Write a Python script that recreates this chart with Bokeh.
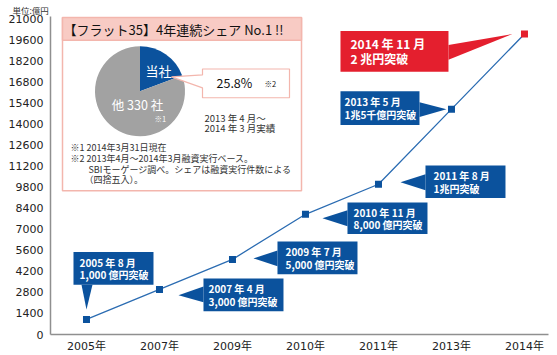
import math
from bokeh.plotting import figure
from bokeh.models import Label, FixedTicker
from bokeh.embed import file_html
from bokeh.resources import INLINE

# ---------------- data ----------------
years = ["2005年", "2007年", "2009年", "2010年", "2011年", "2013年", "2014年"]
amounts = [1000, 3000, 5000, 8000, 10000, 15000, 20000]
y_ticks = list(range(0, 21001, 1400))
callout_dates = ["2005 年 8 月", "2007 年 4 月", "2009 年 7 月", "2010 年 11 月",
                 "2011 年 8 月", "2013 年 5 月", "2014 年 11 月"]
callout_notes = ["1,000 億円突破", "3,000 億円突破", "5,000 億円突破", "8,000 億円突破",
                 "1兆円突破", "1兆5千億円突破", "2 兆円突破"]
share_labels = ["当社", "他 330 社"]
share_drawn_pct = [19.3, 80.7]   # slice sizes as drawn in the picture
share_text = "25.8%"
title_text = "【フラット35】4年連続シェア No.1 !!"
period_lines = ["2013 年 4 月〜", "2014 年 3 月実績"]
note_lines = ["※1 2014年3月31日現在", "※2 2013年4月〜2014年3月融資実行ベース。",
              "SBIモーゲージ調べ。シェアは融資実行件数による", "（四捨五入）。"]
unit_text = "単位:億円"

# ---------------- layout ----------------
W, H = 557, 355
ML, MR, MT, MB = 50, 9, 15, 19
FW, FH = W - ML - MR, H - MT - MB
X0, X1 = -0.493, 6.329
PX = FW / (X1 - X0)
Y0 = 0
Y1 = FH / 318.5 * 21000
PY = FH / (Y1 - Y0)

def rx(px):            # canvas pixel x -> data x
    return X0 + (px - ML) / PX

def ry(py):            # canvas pixel y -> data y
    return (MT + FH - py) / PY

def ox(i, d):          # pixel offset from point i -> data x
    return i + d / PX

def oy(i, d):          # pixel offset (down positive) from point i -> data y
    return amounts[i] - d / PY

BLUE = "#0b529d"
RED = "#e41f2e"
PINK_LINE = "#f3b6ad"
PINK_FILL = "#f8cbc4"
JP = "Noto Sans CJK JP"

p = figure(width=W, height=H, x_range=(X0, X1), y_range=(Y0, Y1),
           output_backend="svg", toolbar_location=None,
           min_border_left=ML, min_border_right=MR, min_border_top=MT, min_border_bottom=MB)
p.grid.visible = False
p.outline_line_color = None

# unit caption (as the title, left of the frame)
p.title.text = unit_text
p.title.align = "left"
p.title.offset = -38
p.title.standoff = 2
p.title.text_font = JP
p.title.text_font_size = "8.5px"
p.title.text_font_style = "normal"
p.title.text_color = "#333333"

# axes
p.xaxis.ticker = FixedTicker(ticks=list(range(len(years))))
p.xaxis.major_label_overrides = {i: y for i, y in enumerate(years)}
p.yaxis.ticker = FixedTicker(ticks=y_ticks)
for ax in (p.xaxis[0], p.yaxis[0]):
    ax.major_tick_line_color = None
    ax.minor_tick_line_color = None
    ax.major_tick_out = 0
    ax.major_tick_in = 0
    ax.minor_tick_out = 0
    ax.axis_line_color = "#8f8f8f"
    ax.axis_line_width = 1.5
    ax.major_label_text_font = "DejaVu Sans, Noto Sans CJK JP"
    ax.major_label_text_font_size = "11px"
    ax.major_label_text_color = "#222222"
p.yaxis.major_label_standoff = 7
p.xaxis.major_label_standoff = 5

# ---------------- info box ----------------
p.quad(left=rx(62), right=rx(301), top=ry(16), bottom=ry(191),
       fill_color="white", line_color=PINK_LINE, line_width=1.5)
p.quad(left=rx(62), right=rx(301), top=ry(16), bottom=ry(39),
       fill_color=PINK_FILL, line_color=PINK_LINE, line_width=1.5)
p.add_layout(Label(x=rx(173), y=ry(28), text=title_text, text_font=JP,
                   text_font_size="13px", text_color="#111111",
                   text_align="center", text_baseline="middle"))

# pie
cx, cy = rx(139.5), ry(90.5)
a0 = math.radians(90)
blue_span = math.radians(share_drawn_pct[0] / 100 * 360)
p.wedge(x=cx, y=cy, radius=45, radius_units="screen",
        start_angle=a0 - blue_span, end_angle=a0, direction="anticlock",
        fill_color=BLUE, line_color=None)
p.wedge(x=cx, y=cy, radius=45, radius_units="screen",
        start_angle=a0, end_angle=a0 - blue_span + 2 * math.pi, direction="anticlock",
        fill_color="#a2a2a2", line_color=None)
p.add_layout(Label(x=rx(158), y=ry(70), text=share_labels[0], text_font=JP,
                   text_font_size="13px", text_color="white",
                   text_align="center", text_baseline="middle"))
p.add_layout(Label(x=rx(137), y=ry(104), text=share_labels[1], text_font=JP,
                   text_font_size="12.5px", text_color="white",
                   text_align="center", text_baseline="middle"))
p.add_layout(Label(x=rx(154), y=ry(118), text="※1", text_font=JP,
                   text_font_size="7.5px", text_color="white", text_baseline="middle"))

# share callout
sc = [(202, 68), (289, 68), (289, 97), (202, 97), (202, 87), (171, 76), (202, 74)]
p.patch([rx(a) for a, b in sc], [ry(b) for a, b in sc],
        fill_color="white", line_color=PINK_LINE, line_width=1.2)
p.add_layout(Label(x=rx(216), y=ry(82), text=share_text, text_font=JP,
                   text_font_size="12.5px", text_color="#111111", text_baseline="middle"))
p.add_layout(Label(x=rx(264), y=ry(83), text="※2", text_font=JP,
                   text_font_size="7.5px", text_color="#111111", text_baseline="middle"))

for k, t in enumerate(period_lines):
    p.add_layout(Label(x=rx(204), y=ry(117 + 11 * k), text=t, text_font=JP,
                       text_font_size="9.5px", text_color="#333333", text_baseline="middle"))

note_pos = [(70, 147), (70, 158), (88, 169), (84, 180)]
for (nx, ny), t in zip(note_pos, note_lines):
    p.add_layout(Label(x=rx(nx), y=ry(ny), text=t, text_font=JP,
                       text_font_size="9px", text_color="#333333", text_baseline="middle"))

# ---------------- callouts (pixel offsets from their point) ----------------
boxes = [(-13, 67, -68, -35), (44, 124, -11, 22), (45, 125, -18, 15), (42, 122, -12, 20),
         (47, 127, -19, 14), (-111, -32, -18, 16), (-184, -76, -3, 38)]
pointers = [[(-5, -35), (0, -10), (6, -35)], [(44, -3), (19, 6), (44, 13)],
            [(45, -9), (21, -1), (45, 7)], [(42, -4), (17, 4), (42, 12)],
            [(47, -10), (22, -2), (47, 6)], [(-32, -7), (-5, 0), (-32, 8)],
            [(-76, 11), (-12, 0), (-76, 26)]]
text_left = [6, 5, 8, 6, 8, 4, 10]
n = len(boxes)
cols = [RED if i == n - 1 else BLUE for i in range(n)]
bx = [[ox(i, b[0]), ox(i, b[1]), ox(i, b[1]), ox(i, b[0])] for i, b in enumerate(boxes)]
by = [[oy(i, b[2]), oy(i, b[2]), oy(i, b[3]), oy(i, b[3])] for i, b in enumerate(boxes)]
p.patches(bx, by, fill_color=cols, line_color=None)
tx = [[ox(i, a) for a, b in tri] for i, tri in enumerate(pointers)]
ty = [[oy(i, b) for a, b in tri] for i, tri in enumerate(pointers)]
p.patches(tx, ty, fill_color=cols, line_color=None)

for i, b in enumerate(boxes):
    big = (i == n - 1)
    mid = (b[2] + b[3]) / 2
    gap = 7.5 if big else 6.3
    fs = "12px" if big else "10px"
    for text, dy in ((callout_dates[i], mid - gap), (callout_notes[i], mid + gap)):
        p.add_layout(Label(x=ox(i, b[0] + text_left[i]), y=oy(i, dy), text=text,
                           text_font=JP, text_font_style="bold", text_font_size=fs,
                           text_color="white", text_baseline="middle"))

# ---------------- series ----------------
xs = list(range(len(years)))
p.line(xs, amounts, line_color="#2b6cb2", line_width=1.3)
p.scatter(xs[:-1], amounts[:-1], marker="square", size=7, fill_color=BLUE, line_color=None)
p.scatter(xs[-1:], amounts[-1:], marker="square", size=7, fill_color=RED, line_color=None)

open("out.html", "w").write(file_html(p, INLINE))
